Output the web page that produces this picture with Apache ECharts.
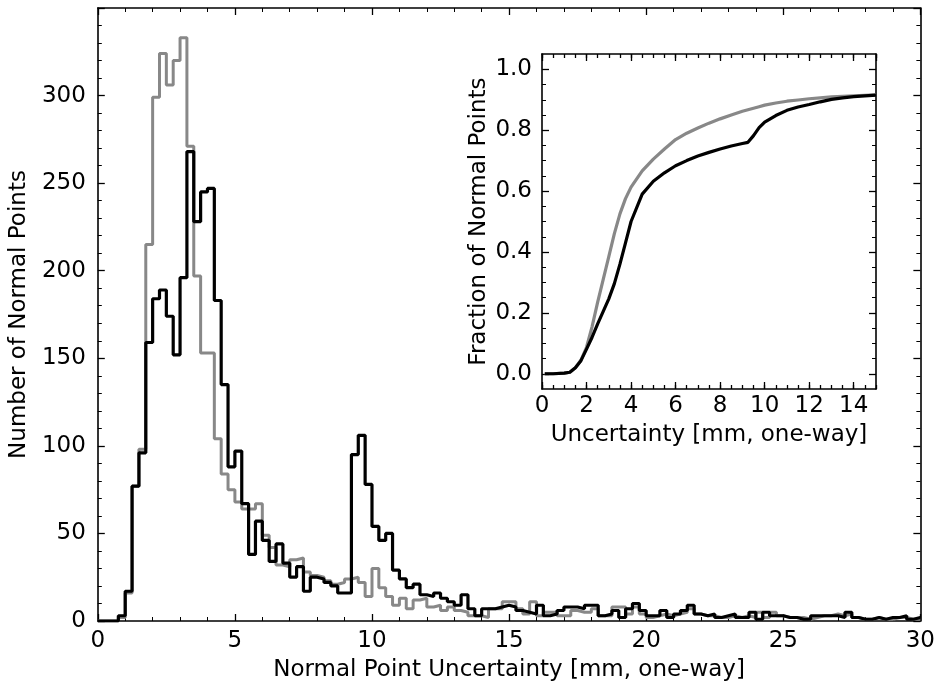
<!DOCTYPE html>
<html>
<head>
<meta charset="utf-8">
<script src="https://cdn.jsdelivr.net/npm/echarts@6/dist/echarts.min.js"></script>
<style>
  html, body { margin: 0; padding: 0; background: #fff; }
  #chart { width: 938px; height: 687px; }
</style>
</head>
<body>
<div id="chart"></div>
<script>
// histogram bins, 0.25 mm wide, 0 - 30 mm
var binWidth = 0.25
var grayCounts = [
  0, 0, 0, 2, 16, 77, 98, 215, 299, 324, 306, 320, 333, 271, 197, 153, 153, 104, 84, 75,
  68, 64, 64, 67, 49, 42, 32, 31, 35, 36, 28, 26, 25, 23, 21, 22, 24, 25, 22, 14,
  30, 19, 14, 9, 13, 7, 12, 13, 8, 9, 6, 8, 6, 5, 3, 3, 2, 7, 7, 11,
  11, 7, 4, 11, 3, 5, 5, 3, 3, 6, 5, 5, 7, 3, 3, 8, 8, 4, 8, 4,
  2, 3, 4, 3, 4, 5, 7, 4, 3, 3, 2, 2, 3, 2, 3, 2, 5, 2, 5, 3,
  2, 2, 2, 1, 2, 3, 3, 4, 3, 4, 2, 1, 1, 2, 1, 1, 2, 2, 1, 1
]
var blackCounts = [
  0, 0, 0, 3, 17, 77, 96, 159, 184, 189, 174, 152, 196, 268, 228, 245, 247, 183, 135, 88,
  97, 67, 38, 57, 46, 34, 44, 33, 25, 31, 17, 25, 24, 22, 20, 16, 16, 95, 106, 78,
  54, 46, 50, 29, 24, 19, 21, 15, 14, 16, 13, 11, 9, 15, 7, 3, 7, 7, 8, 9,
  8, 6, 5, 4, 9, 3, 4, 6, 8, 8, 7, 9, 9, 3, 4, 6, 2, 7, 10, 6,
  3, 3, 6, 2, 4, 6, 9, 4, 3, 4, 2, 3, 4, 2, 2, 5, 1, 5, 3, 3,
  2, 2, 1, 1, 3, 3, 3, 3, 2, 5, 2, 1, 1, 2, 1, 2, 2, 3, 1, 2
]

// inset: cumulative fraction
var cdfX = [0.125, 0.5, 1.0, 1.25, 1.5, 1.75, 2.0, 2.25, 2.5, 2.75, 3.0, 3.25, 3.5, 3.75, 4.0, 4.5, 5.0, 5.5,
  6.0, 6.5, 7.0, 7.5, 8.0, 8.5, 9.0, 9.25, 9.5, 9.75, 10.0, 10.5, 11.0, 11.5, 12.0, 12.5, 13.0, 13.5, 14.0, 15.0]
var grayCdf = [0, 0, 0.002, 0.005, 0.02, 0.045, 0.087, 0.155, 0.235, 0.31, 0.385, 0.46, 0.525, 0.575, 0.613, 0.666, 0.705, 0.738,
  0.769, 0.79, 0.807, 0.823, 0.837, 0.85, 0.862, 0.867, 0.872, 0.877, 0.882, 0.889, 0.895, 0.899, 0.903, 0.906, 0.909, 0.911, 0.913, 0.916]
var blackCdf = [0, 0, 0.002, 0.005, 0.02, 0.043, 0.081, 0.12, 0.164, 0.205, 0.246, 0.296, 0.36, 0.43, 0.5, 0.59, 0.632, 0.66,
  0.683, 0.70, 0.715, 0.727, 0.738, 0.748, 0.756, 0.76, 0.782, 0.808, 0.826, 0.848, 0.865, 0.876, 0.884, 0.893, 0.901, 0.906, 0.91, 0.915]

function stepData (counts) {
  var out = []
  counts.forEach(function (c, i) { out.push([i * binWidth, c]) })
  out.push([counts.length * binWidth, counts[counts.length - 1]])
  return out
}
function pairs (xs, ys) {
  return xs.map(function (x, i) { return [x, ys[i]] })
}

var font = 'DejaVu Sans'
var lbl = { color: '#000', fontFamily: font, fontSize: 23 }
var line = { show: true, onZero: false, lineStyle: { color: '#000', width: 1.6 } }
var noLine = { show: false, onZero: false }
function ticks (len) { return { show: true, inside: true, length: len, lineStyle: { color: '#000', width: 1.3 } } }
var minor = function (n) { return { show: true, splitNumber: n, length: 4, lineStyle: { color: '#000', width: 1 } } }

var chart = echarts.init(document.getElementById('chart'), null, { renderer: 'canvas' })
var option = {
  animation: false,
  backgroundColor: '#fff',
  grid: [
    { left: 95, top: 8, width: 828, height: 616 },
    { left: 542, top: 54, width: 334, height: 335 },
    { left: 542, top: 69.3, width: 334, height: 304.5 }
  ],
  xAxis: [
    {
      gridIndex: 0, type: 'value', min: 0, max: 30, interval: 5, position: 'bottom',
      axisLine: line, axisTick: ticks(7), minorTick: minor(5), splitLine: { show: false },
      axisLabel: Object.assign({ margin: 9 }, lbl),
      name: 'Normal Point Uncertainty [mm, one-way]', nameLocation: 'middle', nameGap: 38,
      nameTextStyle: lbl
    },
    {
      gridIndex: 0, type: 'value', min: 0, max: 30, interval: 5, position: 'top',
      axisLine: line, axisTick: ticks(7), minorTick: minor(5), splitLine: { show: false },
      axisLabel: { show: false }
    },
    {
      gridIndex: 1, type: 'value', min: 0, max: 15, interval: 2, position: 'bottom',
      axisLine: line, axisTick: ticks(7), splitLine: { show: false },
      axisLabel: Object.assign({ margin: 6, showMaxLabel: false }, lbl),
      name: 'Uncertainty [mm, one-way]', nameLocation: 'middle', nameGap: 35,
      nameTextStyle: lbl
    },
    {
      gridIndex: 1, type: 'value', min: 0, max: 15, interval: 2, position: 'top',
      axisLine: line, axisTick: ticks(7), splitLine: { show: false },
      axisLabel: { show: false }
    },
    {
      gridIndex: 1, type: 'value', min: 0, max: 15, interval: 0.5, position: 'bottom',
      axisLine: noLine, axisTick: ticks(4), splitLine: { show: false },
      axisLabel: { show: false }
    },
    {
      gridIndex: 1, type: 'value', min: 0, max: 15, interval: 0.5, position: 'top',
      axisLine: noLine, axisTick: ticks(4), splitLine: { show: false },
      axisLabel: { show: false }
    },
    {
      gridIndex: 2, type: 'value', min: 0, max: 15, show: false
    }
  ],
  yAxis: [
    {
      gridIndex: 0, type: 'value', min: 0, max: 350, interval: 50, position: 'left',
      axisLine: line, axisTick: ticks(7), minorTick: minor(5), splitLine: { show: false },
      axisLabel: Object.assign({ margin: 12, showMaxLabel: false }, lbl),
      name: 'Number of Normal Points', nameLocation: 'middle', nameGap: 60,
      nameTextStyle: lbl
    },
    {
      gridIndex: 0, type: 'value', min: 0, max: 350, interval: 50, position: 'right',
      axisLine: line, axisTick: ticks(7), minorTick: minor(5), splitLine: { show: false },
      axisLabel: { show: false }
    },
    {
      gridIndex: 1, type: 'value', min: -0.05, max: 1.05, position: 'left',
      axisLine: line, axisTick: { show: false }, splitLine: { show: false },
      axisLabel: { show: false }
    },
    {
      gridIndex: 1, type: 'value', min: -0.05, max: 1.05, position: 'right',
      axisLine: line, axisTick: { show: false }, splitLine: { show: false },
      axisLabel: { show: false }
    },
    {
      gridIndex: 2, type: 'value', min: 0, max: 1, interval: 0.2, position: 'left',
      axisLine: noLine, axisTick: ticks(7), minorTick: minor(4), splitLine: { show: false },
      axisLabel: Object.assign({ margin: 10, formatter: function (v) { return v.toFixed(1) } }, lbl),
      name: 'Fraction of Normal Points', nameLocation: 'middle', nameGap: 51,
      nameTextStyle: lbl
    },
    {
      gridIndex: 2, type: 'value', min: 0, max: 1, interval: 0.2, position: 'right',
      axisLine: noLine, axisTick: ticks(7), minorTick: minor(4), splitLine: { show: false },
      axisLabel: { show: false }
    }
  ],
  series: [
    {
      name: 'gray', type: 'line', step: 'end', xAxisIndex: 0, yAxisIndex: 0,
      data: stepData(grayCounts), symbol: 'none',
      lineStyle: { color: '#888888', width: 3 }
    },
    {
      name: 'black', type: 'line', step: 'end', xAxisIndex: 0, yAxisIndex: 0,
      data: stepData(blackCounts), symbol: 'none',
      lineStyle: { color: '#000000', width: 3.2 }
    },
    {
      name: 'grayCdf', type: 'line', xAxisIndex: 2, yAxisIndex: 2,
      data: pairs(cdfX, grayCdf), symbol: 'none', smooth: false,
      lineStyle: { color: '#888888', width: 3.2, join: 'round' }
    },
    {
      name: 'blackCdf', type: 'line', xAxisIndex: 2, yAxisIndex: 2,
      data: pairs(cdfX, blackCdf), symbol: 'none', smooth: false,
      lineStyle: { color: '#000000', width: 3.2, join: 'round' }
    }
  ]
}
chart.setOption(option)
</script>
</body>
</html>
